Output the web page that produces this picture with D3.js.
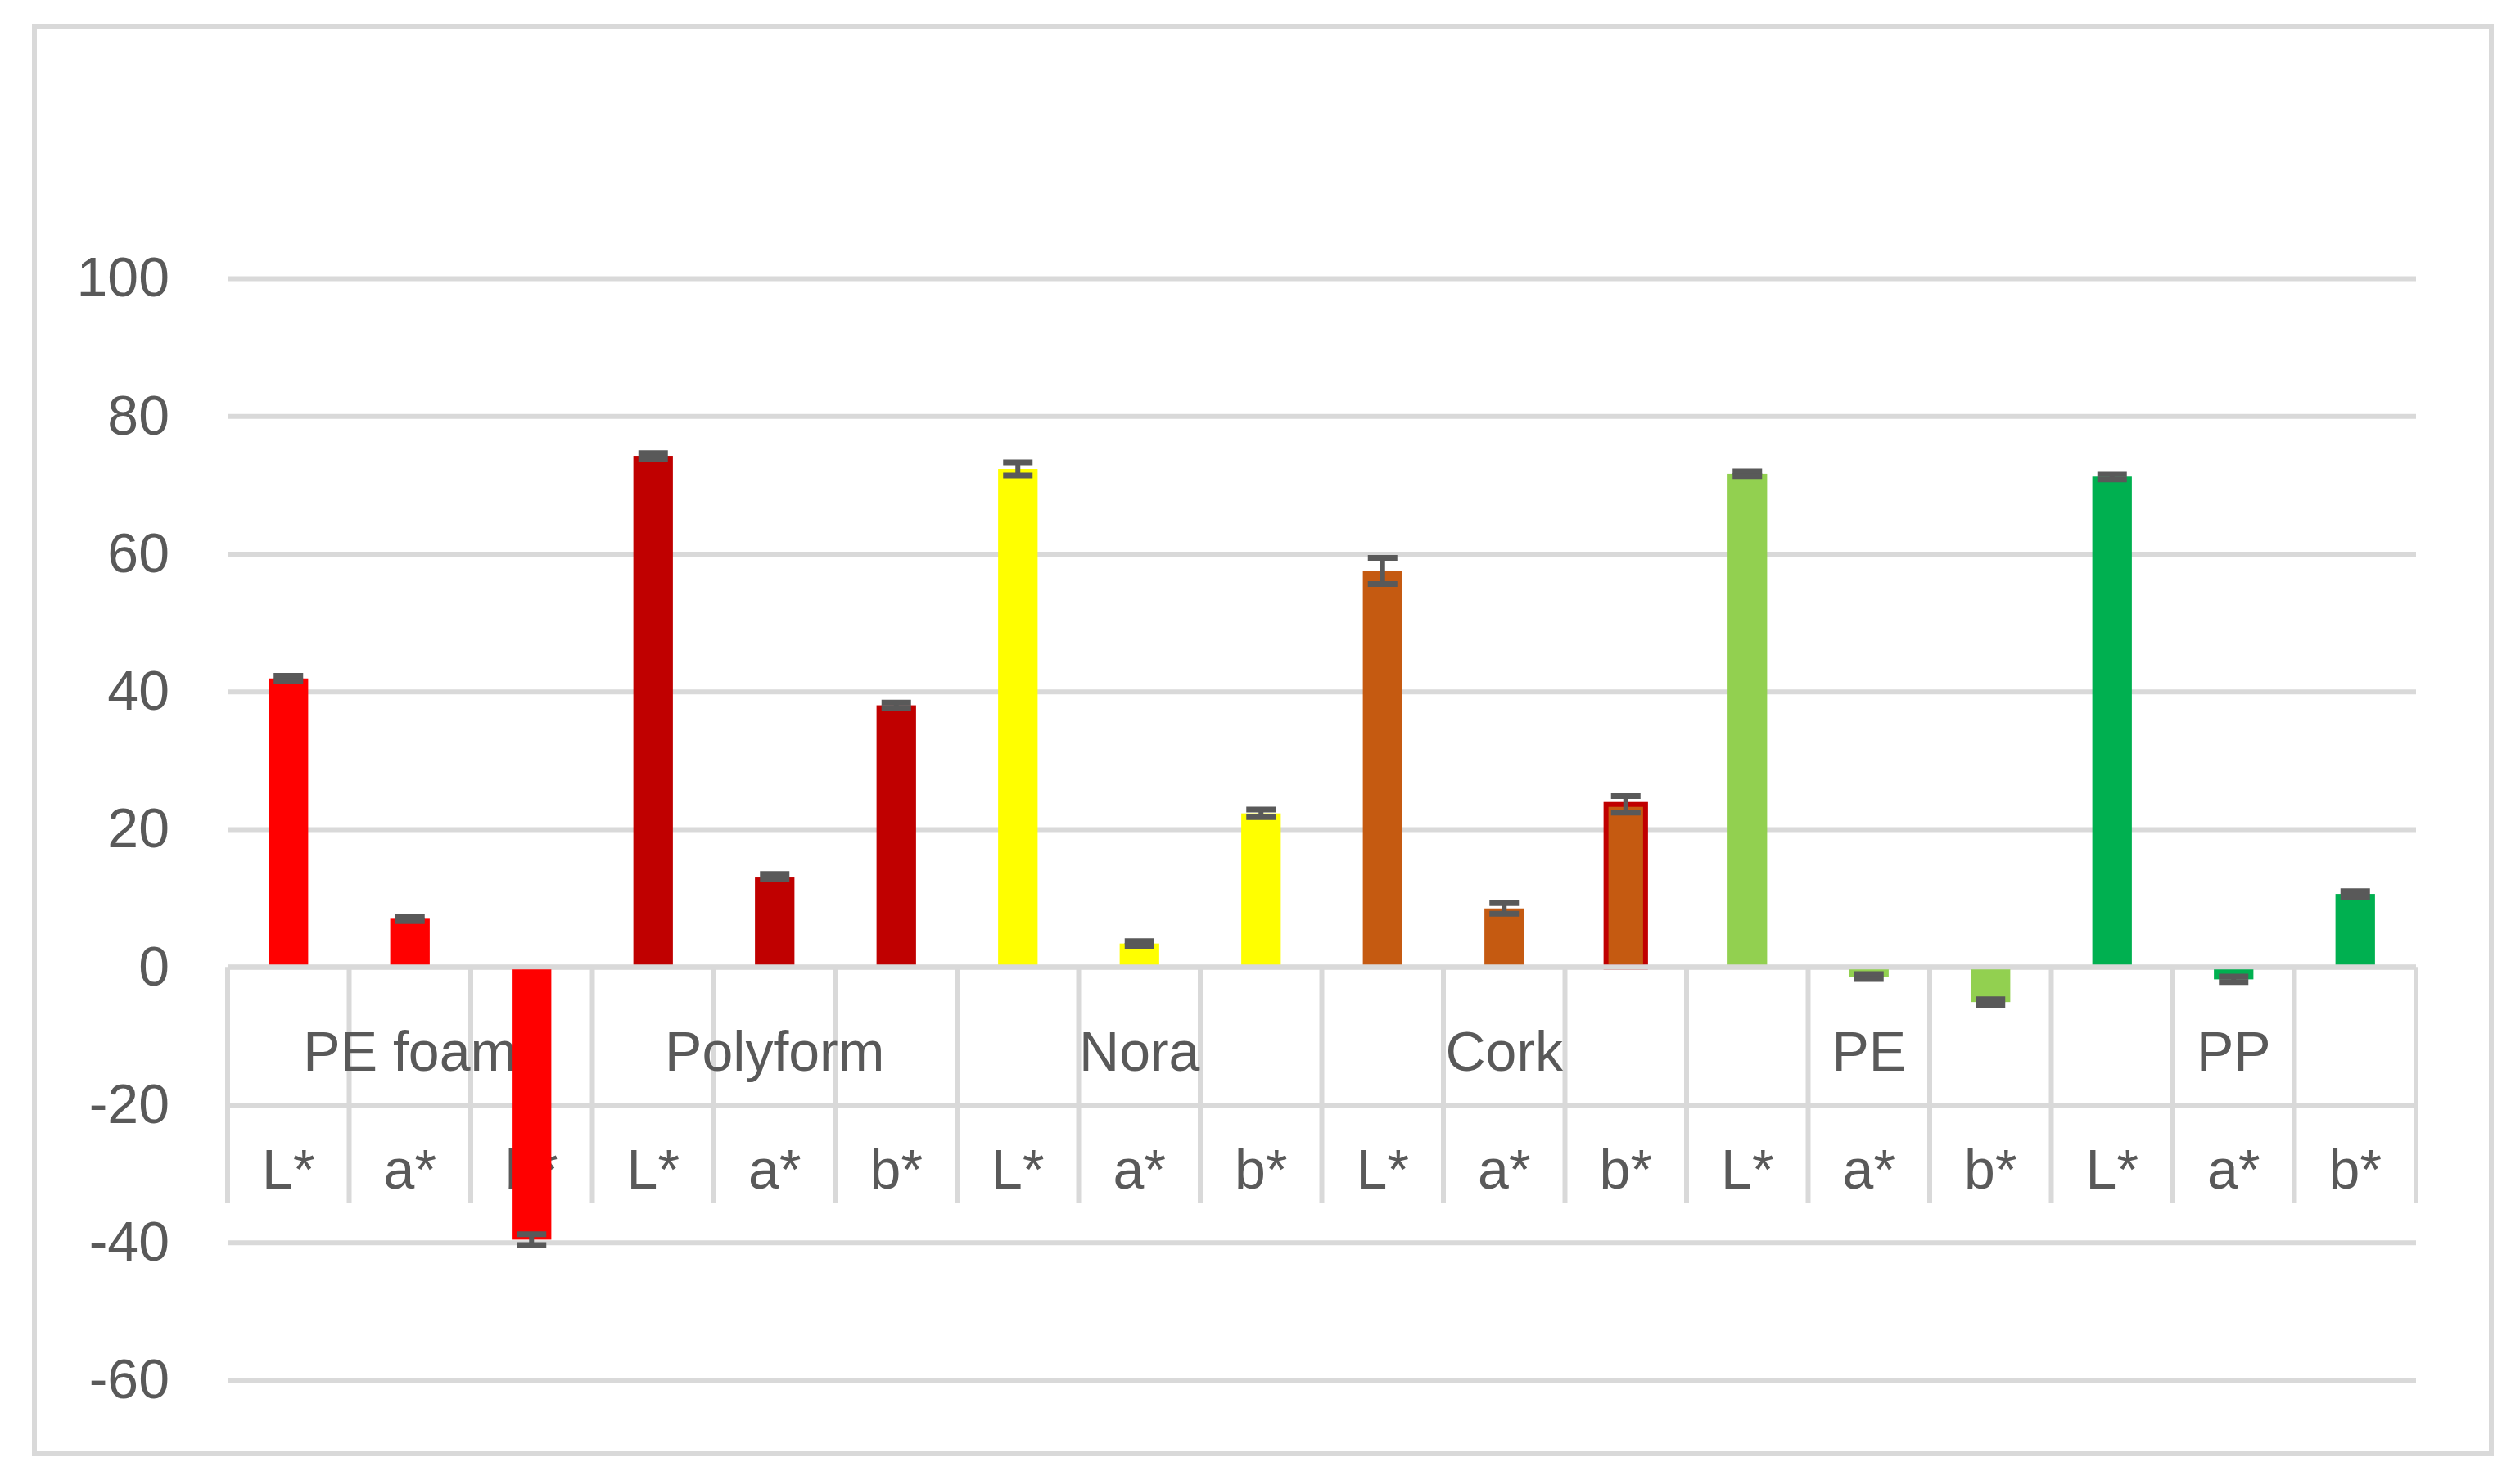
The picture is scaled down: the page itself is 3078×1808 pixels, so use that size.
<!DOCTYPE html>
<html>
<head>
<meta charset="utf-8">
<script src="https://cdn.jsdelivr.net/npm/d3@7"></script>
<style>
  html, body { margin: 0; padding: 0; background: #ffffff; }
  svg { display: block; }
</style>
</head>
<body>
<svg id="chart" width="3078" height="1808"></svg>
<script>
// ---- data ----
const groups = ["PE foam", "Polyform", "Nora", "Cork", "PE", "PP"];
const params = ["L*", "a*", "b*"];
const groupColors = ["#FF0000", "#C00000", "#FFFF00", "#C55A11", "#92D050", "#00B050"];
const valuesPEfoam  = [41.9, 7.0, -39.6];
const valuesPolyform = [74.2, 13.1, 38.0];
const valuesNora    = [72.3, 3.4, 22.3];
const valuesCork    = [57.5, 8.5, 23.6];
const valuesPE      = [71.6, -1.4, -5.1];
const valuesPP      = [71.2, -1.8, 10.6];
const errPEfoam   = [0.4, 0.35, 0.8];
const errPolyform = [0.4, 0.4, 0.4];
const errNora     = [0.95, 0.35, 0.55];
const errCork     = [1.9, 0.77, 1.2];
const errPE       = [0.35, 0.35, 0.4];
const errPP       = [0.4, 0.4, 0.4];
const yTicks = [-60, -40, -20, 0, 20, 40, 60, 80, 100];
// Cork b* bar carries a dark-red outline in the original
const outlined = [{group: "Cork", param: "b*", stroke: "#C00000"}];

const allValues = [valuesPEfoam, valuesPolyform, valuesNora, valuesCork, valuesPE, valuesPP];
const allErrors = [errPEfoam, errPolyform, errNora, errCork, errPE, errPP];

const rows = [];
groups.forEach((g, gi) => {
  params.forEach((p, pi) => {
    rows.push({key: gi * 3 + pi, group: g, param: p, value: allValues[gi][pi], err: allErrors[gi][pi], color: groupColors[gi]});
  });
});

// ---- layout ----
const svg = d3.select("#chart");
const left = 278, right = 2951;
const gridColor = "#d9d9d9";
const textColor = "#595959";
const font = "'Liberation Sans', Arial, sans-serif";
const fontSize = 68;

const y = d3.scaleLinear().domain([-60, 100]).range([1686, 340]);
const xCat = d3.scaleBand().domain(rows.map(d => d.key)).range([left, right]).padding(0);
const x = d3.scaleBand().domain(rows.map(d => d.key)).range([left, right]).paddingInner(0.675).paddingOuter(0.3375);

// chart frame
svg.append("rect")
  .attr("x", 42).attr("y", 32).attr("width", 3043 - 42).attr("height", 1776 - 32)
  .attr("fill", "#ffffff").attr("stroke", gridColor).attr("stroke-width", 6);

// gridlines
const grid = svg.append("g").attr("transform", `translate(${left},0)`)
  .call(d3.axisLeft(y).tickValues(yTicks).tickSize(-(right - left)).tickFormat(""));
grid.select(".domain").remove();
grid.selectAll("line").attr("stroke", gridColor).attr("stroke-width", 6);

// y tick labels
const yAxis = svg.append("g").attr("transform", `translate(${left},0)`)
  .call(d3.axisLeft(y).tickValues(yTicks).tickSize(0).tickPadding(71).tickFormat(d => String(d)));
yAxis.select(".domain").remove();
yAxis.selectAll("text")
  .attr("fill", textColor).style("font-family", font).style("font-size", fontSize + "px");

// category table: vertical separators
const sepTop = y(0), sepBottom = 1470;
const boundaries = rows.map(d => xCat(d.key)).concat([right]);
svg.append("g").selectAll("line").data(boundaries).join("line")
  .attr("x1", d => d).attr("x2", d => d)
  .attr("y1", sepTop).attr("y2", sepBottom)
  .attr("stroke", gridColor).attr("stroke-width", 6);

// parameter labels (L*, a*, b*)
svg.append("g").selectAll("text").data(rows).join("text")
  .attr("x", d => xCat(d.key) + xCat.bandwidth() / 2)
  .attr("y", 1452)
  .attr("text-anchor", "middle")
  .attr("fill", textColor).style("font-family", font).style("font-size", fontSize + "px")
  .text(d => d.param);

// group labels centred on the middle category of each group
svg.append("g").selectAll("text").data(groups).join("text")
  .attr("x", (g, gi) => xCat(gi * 3 + 1) + xCat.bandwidth() / 2)
  .attr("y", 1308)
  .attr("text-anchor", "middle")
  .attr("fill", textColor).style("font-family", font).style("font-size", fontSize + "px")
  .text(g => g);

// bars
svg.append("g").selectAll("rect").data(rows).join("rect")
  .attr("x", d => x(d.key))
  .attr("width", x.bandwidth())
  .attr("y", d => Math.min(y(d.value), y(0)))
  .attr("height", d => Math.abs(y(d.value) - y(0)))
  .attr("fill", d => d.color)
  .attr("stroke", d => {
    const o = outlined.find(o => o.group === d.group && o.param === d.param);
    return o ? o.stroke : "none";
  })
  .attr("stroke-width", 6);

// zero axis line on top of bars
svg.append("line")
  .attr("x1", left).attr("x2", right).attr("y1", y(0)).attr("y2", y(0))
  .attr("stroke", gridColor).attr("stroke-width", 6);

// error bars
const capW = 36;
const eb = svg.append("g").selectAll("g").data(rows).join("g")
  .attr("stroke", textColor);
eb.append("line")
  .attr("stroke-width", 6)
  .attr("x1", d => x(d.key) + x.bandwidth() / 2).attr("x2", d => x(d.key) + x.bandwidth() / 2)
  .attr("y1", d => y(d.value + d.err)).attr("y2", d => y(d.value - d.err));
eb.append("line")
  .attr("stroke-width", 7)
  .attr("x1", d => x(d.key) + x.bandwidth() / 2 - capW / 2).attr("x2", d => x(d.key) + x.bandwidth() / 2 + capW / 2)
  .attr("y1", d => y(d.value + d.err)).attr("y2", d => y(d.value + d.err));
eb.append("line")
  .attr("stroke-width", 7)
  .attr("x1", d => x(d.key) + x.bandwidth() / 2 - capW / 2).attr("x2", d => x(d.key) + x.bandwidth() / 2 + capW / 2)
  .attr("y1", d => y(d.value - d.err)).attr("y2", d => y(d.value - d.err));
</script>
</body>
</html>
